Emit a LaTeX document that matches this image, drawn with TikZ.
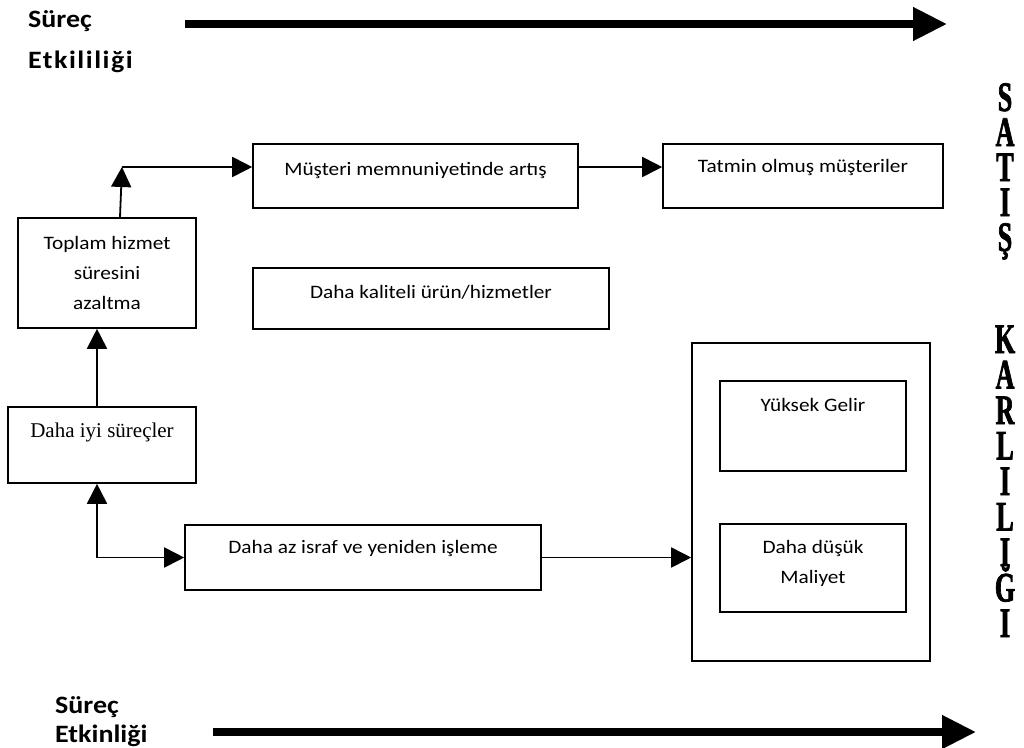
\documentclass[tikz,border=0pt]{standalone}
\usepackage{fontspec}
\setmainfont{Carlito}[FakeStretch=1.12]
\newfontfamily\timesfont{Liberation Serif}
\newfontfamily\tallfont{Liberation Serif}[FakeStretch=0.62, FakeBold=1.6]
\usetikzlibrary{arrows.meta}
\begin{document}
\begin{tikzpicture}[x=1pt,y=-1pt,
  box/.style={draw, line width=1.6pt, rectangle, inner sep=0pt},
  txt/.style={inner sep=0pt, align=center, font=\fontsize{19}{30}\selectfont},
  conn/.style={line width=1.8pt, -{Triangle[length=20pt,width=20pt]}},
  biconn/.style={line width=1.8pt, {Triangle[length=20pt,width=20pt]}-{Triangle[length=20pt,width=20pt]}},
  bigarrow/.style={line width=7.5pt, -{Triangle[length=34pt,width=32pt]}},
  heading/.style={inner sep=0pt, anchor=base west, font=\fontsize{25}{30}\selectfont\bfseries},
  tall/.style={inner sep=0pt, anchor=base, text height=28pt, text depth=0pt,
    font=\fontsize{42}{42}\selectfont\tallfont\bfseries}]
\useasboundingbox (0,0) rectangle (1024,747);

% headings and the two long arrows
\node[heading] (h1a) at (28,27) {Süreç};
\node[heading] (h1b) at (28,68) {\addfontfeature{LetterSpace=6}Etkililiği};
\node[heading] (h2a) at (55,713) {Süreç};
\node[heading] (h2b) at (55,742) {Etkinliği};
\coordinate (ta) at (185,24);
\coordinate (tb) at (947,24);
\coordinate (ba) at (213,732);
\coordinate (bb) at (976,732);
\draw[bigarrow] (ta) -- (tb);
\draw[bigarrow] (ba) -- (bb);

% boxes
\node[box, minimum width=325pt, minimum height=64pt] (musteri) at (415.5,176) {};
\node[box, minimum width=356pt, minimum height=61pt] (kalite) at (431,298.5) {};
\node[box, minimum width=280pt, minimum height=64pt] (tatmin) at (803,176) {};
\node[box, minimum width=178pt, minimum height=110pt] (toplam) at (107,273) {};
\node[box, minimum width=188pt, minimum height=76pt] (iyi) at (102,445) {};
\node[box, minimum width=356pt, minimum height=65pt] (israf) at (363,557.5) {};
\node[box, minimum width=238pt, minimum height=318pt] (big) at (811,502) {};
\node[box, minimum width=186pt, minimum height=90pt] (gelir) at (813,426) {};
\node[box, minimum width=186pt, minimum height=88pt] (maliyet) at (813,568) {};

% box texts
\node[txt] (tmusteri) at (415.5,170) {Müşteri memnuniyetinde artış};
\node[txt] (tkalite) at (431,292) {Daha kaliteli ürün/hizmetler};
\node[txt] (ttatmin) at (803,167) {Tatmin olmuş müşteriler};
\node[txt] (ttoplam) at (107,273) {Toplam hizmet\\süresini\\azaltma};
\node[txt, font=\fontsize{21}{25}\selectfont\timesfont] (tiyi) at (102,432) {Daha iyi süreçler};
\node[txt] (tisraf) at (363,548) {Daha az israf ve yeniden işleme};
\node[txt] (tgelir) at (813,405) {Yüksek Gelir};
\node[txt] (tmaliyet) at (813,563) {Daha düşük\\Maliyet};

% connectors
\coordinate (corner) at (122,167);
\coordinate (vx) at (97,0);
\draw[conn] ([xshift=13pt]toplam.north) -- (corner);
\draw[conn] (corner) -- (corner -| musteri.west);
\draw[conn] (musteri.east |- corner) -- (tatmin.west |- corner);
\draw[conn] (iyi.north -| vx) -- (toplam.south -| vx);
\draw[biconn] (iyi.south -| vx) |- (israf.west);
\draw[conn] (israf.east) -- (big.west |- israf.east);

% vertical caption, one letter per line
\foreach \ch [count=\i from 0] in {S,A,T,I,Ş}
  \node[tall] (s\i) at (1005,111+35*\i) {\ch};
\foreach \ch [count=\i from 0] in {K,A,R,L,I,L,I,Ğ,I}
  \node[tall] (k\i) at (1005,353+35.5*\i) {\ch};
\end{tikzpicture}
\end{document}
